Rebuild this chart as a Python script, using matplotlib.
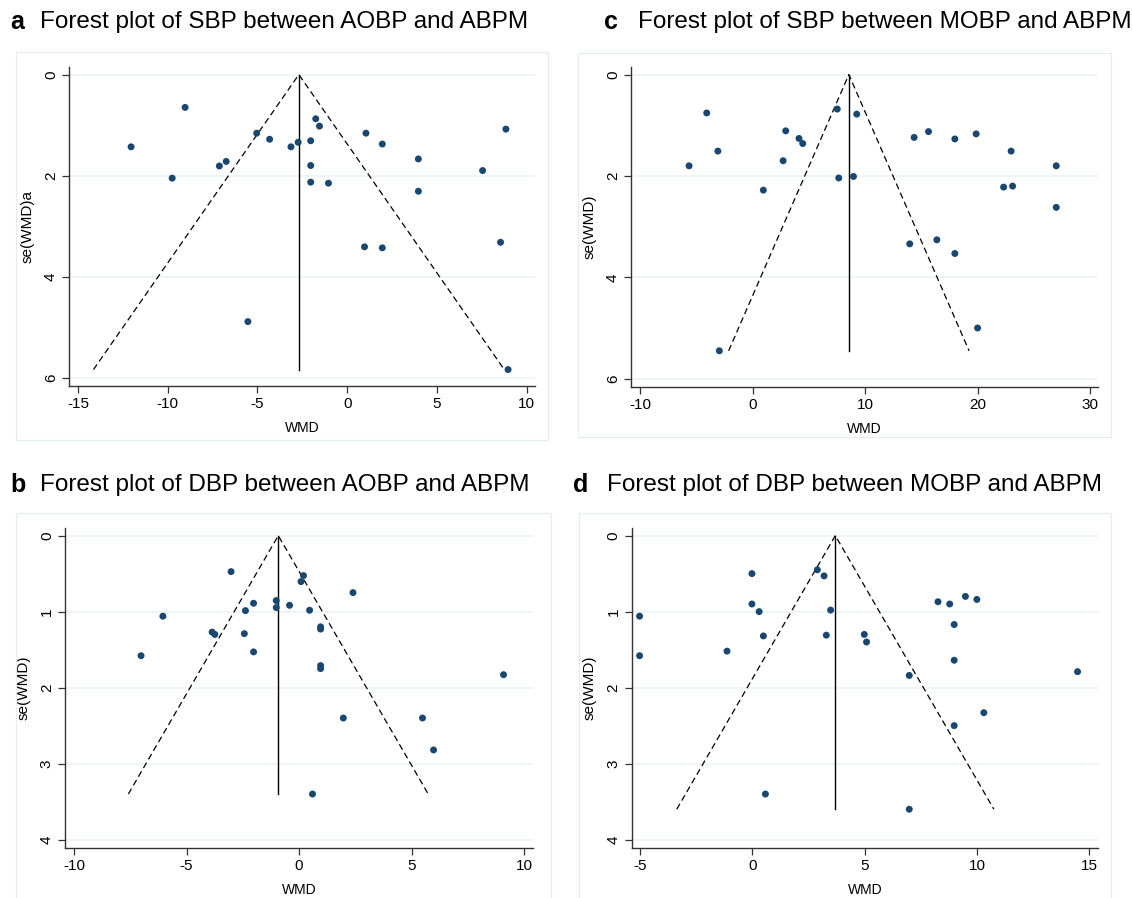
import matplotlib
matplotlib.use("Agg")
import matplotlib.pyplot as plt
from matplotlib.patches import Rectangle
import numpy as np

plt.rcParams['font.family'] = ['Liberation Sans', 'DejaVu Sans']
plt.rcParams['axes.unicode_minus'] = False

W, H = 1133, 898

# panel a: SBP, AOBP vs ABPM
wmd_a = [-9.03, -12.04, -9.75, -7.12, -6.74, -5.04, -4.32, -3.13, -2.73, -2.03,
         -1.75, -1.54, -2.03, -2.03, -1.04, 1.05, 1.96, 3.97, 3.97, 0.97,
         1.96, 7.55, 8.85, 8.55, 8.97, -5.53]
se_a = [0.65, 1.43, 2.05, 1.81, 1.72, 1.16, 1.28, 1.43, 1.34, 1.31,
        0.875, 1.02, 1.80, 2.13, 2.15, 1.16, 1.375, 1.67, 2.31, 3.41,
        3.43, 1.90, 1.08, 3.32, 5.84, 4.89]

# panel c: SBP, MOBP vs ABPM
wmd_c = [-5.64, -4.07, -3.08, -2.95, 0.96, 2.72, 2.95, 4.13, 4.46, 7.53,
         9.26, 7.66, 8.97, 14.36, 15.64, 17.98, 19.87, 22.98, 22.31, 23.11,
         26.99, 26.99, 13.97, 16.38, 17.98, 20.0]
se_c = [1.80, 0.757, 1.51, 5.45, 2.28, 1.70, 1.11, 1.26, 1.36, 0.68,
        0.78, 2.04, 2.01, 1.24, 1.125, 1.27, 1.17, 1.51, 2.22, 2.20,
        1.80, 2.62, 3.34, 3.26, 3.53, 5.0]

# panel b: DBP, AOBP vs ABPM
wmd_b = [-3.02, 0.20, 0.09, 2.40, -1.01, -1.01, -2.02, -0.42, -2.38, 0.47,
         -6.05, -3.86, -3.74, -2.43, 0.96, 0.96, -2.02, -7.02, 0.96, 0.96,
         9.09, 1.97, 5.49, 5.98, 0.60]
se_b = [0.474, 0.526, 0.605, 0.75, 0.855, 0.947, 0.89, 0.917, 0.987, 0.982,
        1.06, 1.27, 1.30, 1.29, 1.20, 1.23, 1.53, 1.58, 1.71, 1.75,
        1.83, 2.40, 2.40, 2.82, 3.40]

# panel d: DBP, MOBP vs ABPM
wmd_d = [-5.02, -5.02, -1.13, -0.02, -0.02, 0.30, 0.49, 0.58, 2.89, 3.19,
         3.48, 3.29, 4.98, 5.08, 6.98, 6.98, 8.26, 8.78, 9.48, 9.99,
         8.98, 8.98, 8.98, 10.30, 14.47]
se_d = [1.06, 1.58, 1.52, 0.50, 0.90, 1.00, 1.32, 3.40, 0.45, 0.53,
        0.98, 1.31, 1.30, 1.40, 1.84, 3.60, 0.87, 0.90, 0.80, 0.84,
        1.17, 1.64, 2.50, 2.33, 1.79]

# pooled estimates (vertical line)
pooled = {'a': -2.69, 'c': 8.56, 'b': -0.92, 'd': 3.69}

titles = {
    'a': "Forest plot of SBP between AOBP and ABPM",
    'c': "Forest plot of SBP between MOBP and ABPM",
    'b': "Forest plot of DBP between AOBP and ABPM",
    'd': "Forest plot of DBP between MOBP and ABPM",
}
ylabels = {'a': "se(WMD)a", 'c': "se(WMD)", 'b': "se(WMD)", 'd': "se(WMD)"}
xticks = {'a': [-15, -10, -5, 0, 5, 10], 'c': [-10, 0, 10, 20, 30],
          'b': [-10, -5, 0, 5, 10], 'd': [-5, 0, 5, 10, 15]}
yticks = {'a': [0, 2, 4, 6], 'c': [0, 2, 4, 6], 'b': [0, 1, 2, 3, 4], 'd': [0, 1, 2, 3, 4]}

# layout in pixels: axes (left, right, top, bottom), limits, frame, title pos
layout = {
    'a': dict(box=(69, 535, 67, 386), xlim=(-15.5, 10.47), ylim=(6.165, -0.15),
              frame=(16, 548, 52, 440), letter=(10, 22), title=(40, 22)),
    'c': dict(box=(631, 1098, 67, 387), xlim=(-10.8, 30.7), ylim=(6.165, -0.15),
              frame=(578, 1111, 53, 437), letter=(604, 22), title=(638, 22)),
    'b': dict(box=(65, 533, 528, 848), xlim=(-10.4, 10.4), ylim=(4.11, -0.1),
              frame=(16, 551, 513, 905), letter=(10, 485), title=(40, 485)),
    'd': dict(box=(631.5, 1098, 528, 848), xlim=(-5.38, 15.38), ylim=(4.11, -0.1),
              frame=(579, 1111, 513, 905), letter=(573, 485), title=(607, 485)),
}

data = {'a': (wmd_a, se_a), 'c': (wmd_c, se_c), 'b': (wmd_b, se_b), 'd': (wmd_d, se_d)}

navy = '#1a476f'
grid_col = '#eaf2f3'
frame_col = '#e6edef'
axis_col = '#333333'

fig = plt.figure(figsize=(W / 100, H / 100), dpi=100)
fig.patch.set_facecolor('white')

for key in ['a', 'c', 'b', 'd']:
    L = layout[key]
    l, r, t, b = L['box']
    ax = fig.add_axes([l / W, 1 - b / H, (r - l) / W, (b - t) / H])

    # faint graph-region frame
    fl, fr, ft, fb = L['frame']
    fig.patches.append(Rectangle((fl / W, 1 - fb / H), (fr - fl) / W, (fb - ft) / H,
                                 transform=fig.transFigure, fill=False,
                                 edgecolor=frame_col, linewidth=0.9, zorder=0))

    wmd, se = data[key]
    wmd = np.array(wmd)
    se = np.array(se)
    c = pooled[key]
    smax = se.max()

    # pseudo 95% CI funnel
    ax.plot([c - 1.96 * smax, c, c + 1.96 * smax], [smax, 0, smax],
            color='black', lw=0.9, linestyle=(0, (5, 3)), zorder=2)
    ax.plot([c, c], [0, smax], color='black', lw=1.0, zorder=2)
    ax.scatter(wmd, se, s=25, color=navy, edgecolors='none', zorder=3)

    ax.set_xlim(*L['xlim'])
    ax.set_ylim(*L['ylim'])
    ax.set_xticks(xticks[key])
    ax.set_yticks(yticks[key])
    ax.set_yticklabels([str(v) for v in yticks[key]], rotation=90, va='center')
    ax.yaxis.grid(True, color=grid_col, lw=1.1)
    ax.set_axisbelow(True)

    for side in ['top', 'right']:
        ax.spines[side].set_visible(False)
    for side in ['left', 'bottom']:
        ax.spines[side].set_color(axis_col)
        ax.spines[side].set_linewidth(1.0)
    ax.tick_params(direction='out', length=5, width=0.9, color=axis_col,
                   labelsize=11, pad=3)

    ax.set_xlabel("WMD", fontsize=10, labelpad=7)
    ax.set_ylabel(ylabels[key], fontsize=11, labelpad=7)

    lx, ly = L['letter']
    fig.text(lx / W, 1 - ly / H, key, fontsize=18, fontweight='bold',
             ha='left', va='center')
    tx, ty = L['title']
    fig.text(tx / W, 1 - ty / H, titles[key], fontsize=17.5, ha='left', va='center')

fig.savefig("out.png", dpi=100)
